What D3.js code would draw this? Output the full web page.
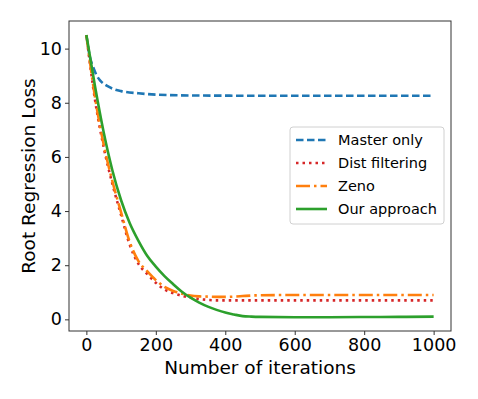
<!DOCTYPE html>
<meta charset="utf-8">
<style>
body { margin: 0; background: #fff; }
text { font-family: "DejaVu Sans", sans-serif; fill: #000; }
.tick line { stroke: #333; }
.domain { display: none; }
</style>
<svg width="478" height="399"></svg>
<script src="https://cdn.jsdelivr.net/npm/d3@7"></script>
<script>

var masterIter = [0, 10, 20, 30, 40, 60, 80, 100, 150, 200, 300, 500, 1000];
var masterLoss = [10.5, 9.7, 9.3, 9.0, 8.82, 8.62, 8.5, 8.43, 8.35, 8.3, 8.27, 8.26, 8.26];

var iters = [0, 25, 50, 75, 100, 125, 150, 175, 200, 225, 250, 275, 300, 325, 350, 375, 400, 425, 450, 475, 500, 600, 700, 800, 900, 1000];
var distLoss = [10.5, 8.1, 6.35, 5.0, 3.85, 2.75, 2.05, 1.68, 1.35, 1.1, 0.97, 0.87, 0.8, 0.75, 0.72, 0.7, 0.7, 0.7, 0.7, 0.7, 0.7, 0.7, 0.7, 0.7, 0.7, 0.7];
var zenoLoss = [10.5, 8.2, 6.45, 5.1, 3.95, 2.85, 2.15, 1.78, 1.45, 1.2, 1.05, 0.95, 0.88, 0.85, 0.84, 0.83, 0.83, 0.84, 0.86, 0.88, 0.89, 0.9, 0.9, 0.9, 0.9, 0.9];
var oursLoss = [10.5, 8.6, 6.9, 5.5, 4.4, 3.55, 2.9, 2.35, 1.95, 1.6, 1.3, 1.02, 0.8, 0.62, 0.47, 0.35, 0.25, 0.18, 0.12, 0.1, 0.09, 0.08, 0.08, 0.085, 0.09, 0.1];

var xTicks = [0, 200, 400, 600, 800, 1000];
var yTicks = [0, 2, 4, 6, 8, 10];

var seriesNames = ["Master only", "Dist filtering", "Zeno", "Our approach"];
var seriesColors = ["#1f77b4", "#d62728", "#ff7f0e", "#2ca02c"];
var seriesDash = ["7.5,3.5", "2.5,4", "14,4,2.5,4", null];

var svg = d3.select("svg");
var pLeft = 69, pRight = 451, pTop = 21, pBottom = 331;

var x = d3.scaleLinear().domain([-50, 1050]).range([pLeft, pRight]);
var y = d3.scaleLinear().domain([-0.43, 11.02]).range([pBottom, pTop]);

var series = [
  masterIter.map((t, i) => [t, masterLoss[i]]),
  iters.map((t, i) => [t, distLoss[i]]),
  iters.map((t, i) => [t, zenoLoss[i]]),
  iters.map((t, i) => [t, oursLoss[i]])
];

var line = d3.line()
    .x(d => x(d[0]))
    .y(d => y(d[1]))
    .curve(d3.curveMonotoneX);

svg.append("defs").append("clipPath").attr("id", "clip")
  .append("rect").attr("x", pLeft).attr("y", pTop).attr("width", pRight - pLeft).attr("height", pBottom - pTop);

var plot = svg.append("g").attr("clip-path", "url(#clip)");
series.forEach(function(s, i) {
  plot.append("path")
    .attr("d", line(s))
    .attr("fill", "none")
    .attr("stroke", seriesColors[i])
    .attr("stroke-width", 2.6)
    .attr("stroke-dasharray", seriesDash[i]);
});

// frame
svg.append("rect")
  .attr("x", pLeft).attr("y", pTop)
  .attr("width", pRight - pLeft).attr("height", pBottom - pTop)
  .attr("fill", "none").attr("stroke", "#333").attr("stroke-width", 1);

svg.append("g")
    .attr("transform", "translate(0," + pBottom + ")")
    .call(d3.axisBottom(x).tickValues(xTicks).tickFormat(d3.format("d")).tickSize(4).tickPadding(4));
svg.append("g")
    .attr("transform", "translate(" + pLeft + ",0)")
    .call(d3.axisLeft(y).tickValues(yTicks).tickFormat(d3.format("d")).tickSize(4).tickPadding(3));
svg.selectAll(".tick text").attr("font-size", 17.5).attr("font-family", "DejaVu Sans");

svg.append("text")
  .attr("x", (pLeft + pRight) / 2).attr("y", 374)
  .attr("text-anchor", "middle").attr("font-size", 18.5)
  .text("Number of iterations");

svg.append("text")
  .attr("transform", "translate(35," + (pTop + pBottom) / 2 + ") rotate(-90)")
  .attr("text-anchor", "middle").attr("font-size", 18.5)
  .text("Root Regression Loss");

// legend
var lg = svg.append("g");
lg.append("rect")
  .attr("x", 290).attr("y", 127).attr("width", 154).attr("height", 97)
  .attr("rx", 3).attr("fill", "#fff").attr("fill-opacity", 0.8)
  .attr("stroke", "#d0d0d0");
seriesNames.forEach(function(name, i) {
  var yy = 140 + i * 23;
  lg.append("line")
    .attr("x1", 296).attr("x2", 327).attr("y1", yy).attr("y2", yy)
    .attr("stroke", seriesColors[i]).attr("stroke-width", 2.6)
    .attr("stroke-dasharray", seriesDash[i]);
  lg.append("text")
    .attr("x", 338).attr("y", yy + 5)
    .attr("font-size", 14.5)
    .text(name);
});
</script>
